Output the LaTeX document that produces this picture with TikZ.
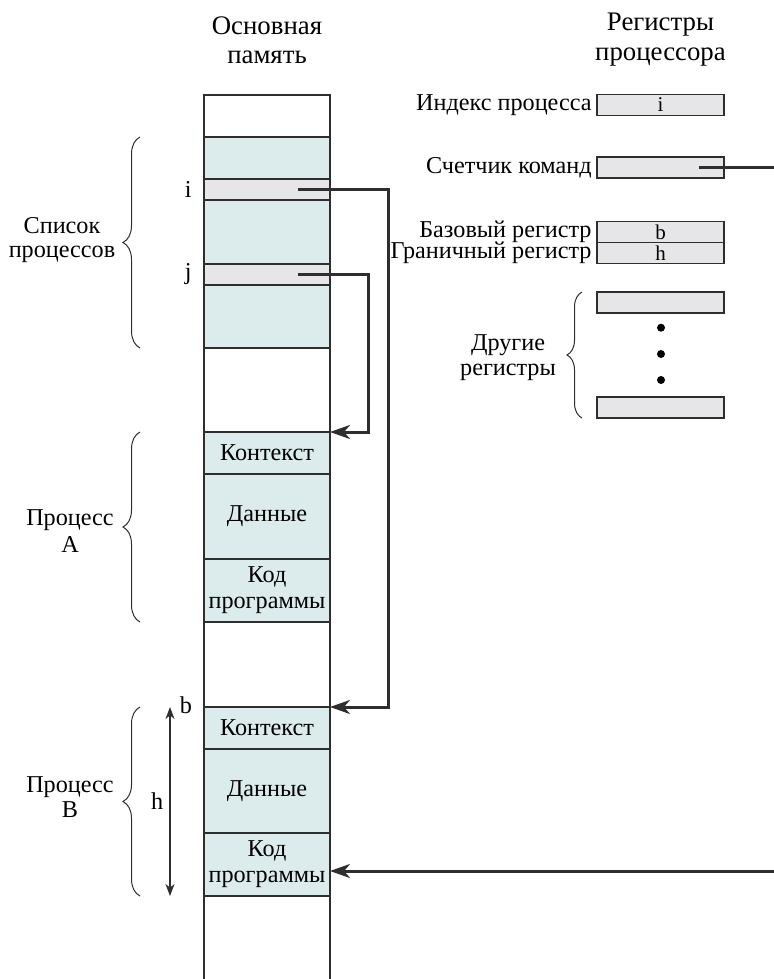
\documentclass[tikz,border=0pt]{standalone}
\usepackage{fontspec}
\setmainfont{Liberation Serif}
\usetikzlibrary{positioning,arrows.meta,decorations.pathreplacing}

\definecolor{cellblue}{HTML}{DCEBEB}
\definecolor{cellgray}{HTML}{E6E6E8}
\definecolor{linegray}{HTML}{2E2E2E}

\tikzset{
  cell/.style={draw=linegray, line width=0.65pt, minimum width=63pt, inner sep=0pt, outer sep=0pt, align=center},
  reg/.style={draw=linegray, fill=cellgray, line width=0.65pt, minimum width=63.5pt, minimum height=10.5pt, inner sep=0pt, outer sep=0pt, font=\fontsize{10.5}{11}\selectfont},
  lbl/.style={inner sep=0pt, align=center},
  grp/.style={draw=linegray, line width=0.5pt, decorate, decoration={brace, amplitude=#1}},
  grp/.default=8.5pt,
  ptr/.style={draw=linegray, line width=1.5pt, -{Stealth[length=10pt, width=7pt, inset=3pt]}},
  dim/.style={draw=linegray, line width=0.7pt, {Stealth[length=6pt, width=4.5pt, inset=1.8pt]}-{Stealth[length=6pt, width=4.5pt, inset=1.8pt]}}
}

\begin{document}
\begin{tikzpicture}[x=0.5pt, y=-0.5pt, font=\fontsize{12.1}{13}\selectfont]
  \useasboundingbox (0,0) rectangle (774,979);

  % headers
  \node[lbl, font=\fontsize{13.4}{14.5}\selectfont] (hmem) at (267,40) {Основная\\память};
  \node[lbl, font=\fontsize{13.4}{15}\selectfont] (hcpu) at (660.5,40) {Регистры\\процессора};

  % main memory column
  \node[cell, minimum height=21pt, anchor=north] (m0) at (267,95) {};
  \node[cell, fill=cellblue, minimum height=21pt, below=0pt of m0] (m1) {};
  \node[cell, fill=cellgray, minimum height=10.5pt, below=0pt of m1] (mi) {};
  \node[cell, fill=cellblue, minimum height=32pt, below=0pt of mi] (m3) {};
  \node[cell, fill=cellgray, minimum height=10.5pt, below=0pt of m3] (mj) {};
  \node[cell, fill=cellblue, minimum height=31.5pt, below=0pt of mj] (m5) {};
  \node[cell, minimum height=42pt, below=0pt of m5] (m6) {};
  \node[cell, fill=cellblue, minimum height=21pt, below=0pt of m6] (ctxA) {Контекст};
  \node[cell, fill=cellblue, minimum height=42.5pt, below=0pt of ctxA] (datA) {Данные};
  \node[cell, fill=cellblue, minimum height=31.5pt, below=0pt of datA] (codA) {Код\\программы};
  \node[cell, minimum height=42.5pt, below=0pt of codA] (m10) {};
  \node[cell, fill=cellblue, minimum height=21pt, below=0pt of m10] (ctxB) {Контекст};
  \node[cell, fill=cellblue, minimum height=42pt, below=0pt of ctxB] (datB) {Данные};
  \node[cell, fill=cellblue, minimum height=31.5pt, below=0pt of datB] (codB) {Код\\программы};
  \node[cell, draw=none, minimum height=41.5pt, below=0pt of codB] (m14) {};
  \draw[linegray, line width=0.65pt] (m14.north west) -- (m14.south west) (m14.north east) -- (m14.south east);

  \node[lbl, left=6pt of mi] (li) {i};
  \node[lbl, left=6pt of mj] (lj) {j};
  \node[lbl] (lb) at (186,705) {b};

  % groups on the left
  \draw[grp] (m5.south west) ++(-32pt,0) coordinate (g1b) -- (m1.north west -| g1b);
  \node[lbl, font=\fontsize{12.1}{12}\selectfont] (llist) at (62,240) {Список\\процессов};
  \draw[grp] (codA.south west) ++(-32pt,0) coordinate (g2b) -- (ctxA.north west -| g2b);
  \node[lbl, font=\fontsize{12.1}{13.5}\selectfont] (lpa) at (70,531) {Процесс\\A};
  \draw[grp] (codB.south west) ++(-32pt,0) coordinate (g3b) -- (ctxB.north west -| g3b);
  \node[lbl, font=\fontsize{12.1}{12.5}\selectfont] (lpb) at (70,797) {Процесс\\B};

  % extent h of process B
  \coordinate (hx) at (170,0);
  \draw[dim] (hx |- ctxB.north) -- (hx |- codB.south) node[lbl, midway, left=3pt] (lh) {h};

  % processor registers
  \node[reg] (ridx) at (660.5,104.7) {i};
  \node[reg] (rpc) at (660.5,167.5) {};
  \node[reg] (rb) at (660.5,232.2) {b};
  \node[reg, below=0pt of rb] (rh) {h};
  \node[reg] (ro1) at (660.5,302.5) {};
  \node[reg] (ro2) at (660.5,407.5) {};
  \foreach \y in {327.7,354,380} \fill[black] (661,\y) circle (2pt);

  \node[lbl, left=2.5pt of ridx] (lidx) {Индекс процесса};
  \node[lbl, left=2.5pt of rpc] (lpc) {Счетчик команд};
  \node[lbl, left=2.5pt of rb] (lbase) {Базовый регистр};
  \node[lbl, left=2.5pt of rh] (lbound) {Граничный регистр};
  \draw[grp=7.5pt] (ro2.south west) ++(-7.5pt,0) coordinate (g4b) -- (ro1.north west -| g4b);
  \node[lbl, font=\fontsize{12.1}{12.5}\selectfont] (lother) at (508,358) {Другие\\регистры};

  % pointers
  \draw[ptr] ([xshift=15.5pt]mi.center) -- ++(45pt,0) |- (ctxB.north east);
  \draw[ptr] ([xshift=15.5pt]mj.center) -- ++(35pt,0) |- (ctxA.north east);
  \coordinate (pcout) at (774,167.5);
  \coordinate (pcin) at (774,871);
  \draw[draw=linegray, line width=1.5pt] ([xshift=19pt]rpc.center) -- (pcout);
  \draw[ptr] (pcin) -- (codB.east |- pcin);
\end{tikzpicture}
\end{document}
